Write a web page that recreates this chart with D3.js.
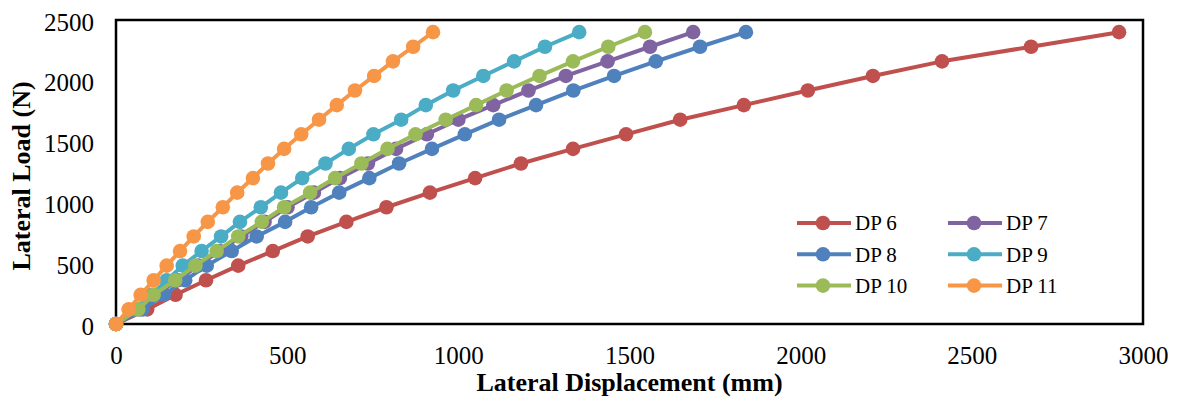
<!DOCTYPE html>
<html>
<head>
<meta charset="utf-8">
<script src="https://cdn.jsdelivr.net/npm/d3@7"></script>
<style>
  html, body { margin: 0; padding: 0; background: #fff; }
  svg { display: block; }
  .tick text { font-family: "Liberation Serif", "Times New Roman", serif; font-size: 25px; fill: #000; }
  .title { font-family: "Liberation Serif", "Times New Roman", serif; font-size: 26px; font-weight: bold; fill: #000; }
  .legend text { font-family: "Liberation Serif", "Times New Roman", serif; font-size: 21px; fill: #000; }
</style>
</head>
<body>
<svg id="chart" width="1178" height="401"></svg>
<script>
// Applied lateral load steps (N)
const loads = [0, 120, 240, 360, 480, 600, 720, 840, 960, 1080, 1200, 1320, 1440, 1560, 1680, 1800, 1920, 2040, 2160, 2280, 2400];

// Lateral displacement (mm) recorded at each load step
const dp6  = [0, 91, 174, 263, 357, 458, 560, 673, 790, 917, 1049, 1183, 1335, 1490, 1648, 1834, 2021, 2211, 2413, 2673, 2930];
const dp7  = [0, 70, 118, 180, 240, 302, 366, 434, 501, 578, 654, 736, 818, 908, 1000, 1102, 1205, 1314, 1436, 1560, 1686];
const dp8  = [0, 78, 140, 202, 265, 338, 411, 494, 570, 652, 740, 827, 923, 1019, 1119, 1227, 1336, 1455, 1577, 1706, 1840];
const dp9  = [0, 55, 105, 148, 195, 250, 307, 362, 423, 482, 544, 612, 680, 752, 833, 905, 985, 1073, 1163, 1253, 1353];
const dp10 = [0, 65, 110, 173, 232, 294, 357, 426, 491, 567, 640, 717, 793, 875, 963, 1052, 1141, 1237, 1335, 1438, 1545];
const dp11 = [0, 37, 72, 110, 148, 187, 227, 268, 312, 354, 400, 444, 491, 541, 593, 645, 698, 754, 809, 868, 926];

const seriesNames = ["DP 6", "DP 7", "DP 8", "DP 9", "DP 10", "DP 11"];
const seriesValues = [dp6, dp7, dp8, dp9, dp10, dp11];
const seriesColors = ["#C0504D", "#8064A2", "#4F81BD", "#4BACC6", "#9BBB59", "#F79646"];

const xTicks = [0, 500, 1000, 1500, 2000, 2500, 3000];
const yTicks = [0, 500, 1000, 1500, 2000, 2500];

const svg = d3.select("#chart");
const plot = { left: 116, right: 1143, top: 20, bottom: 324 };

const x = d3.scaleLinear().domain([0, 3000]).range([plot.left, plot.right]);
const y = d3.scaleLinear().domain([0, 2500]).range([plot.bottom, plot.top]);

// Axes (labels only, no tick marks)
const xAxis = svg.append("g")
  .attr("transform", `translate(0,${plot.bottom})`)
  .call(d3.axisBottom(x).tickValues(xTicks).tickSize(0).tickFormat(d3.format("d")));
xAxis.select(".domain").remove();
xAxis.selectAll(".tick text").attr("y", 0).attr("dy", "40px");

const yAxis = svg.append("g")
  .attr("transform", `translate(${plot.left},0)`)
  .call(d3.axisLeft(y).tickValues(yTicks).tickSize(0).tickFormat(d3.format("d")));
yAxis.select(".domain").remove();
yAxis.selectAll(".tick text").attr("x", -22).attr("dy", "0.4em");

// Plot-area frame
svg.append("rect")
  .attr("x", plot.left).attr("y", plot.top)
  .attr("width", plot.right - plot.left).attr("height", plot.bottom - plot.top)
  .attr("fill", "none").attr("stroke", "#000").attr("stroke-width", 2.5);

// Axis titles
svg.append("text").attr("class", "title")
  .attr("x", (plot.left + plot.right) / 2).attr("y", 391)
  .attr("text-anchor", "middle")
  .text("Lateral Displacement (mm)");

svg.append("text").attr("class", "title")
  .attr("transform", "translate(30,176) rotate(-90)")
  .attr("text-anchor", "middle")
  .text("Lateral Load (N)");

// Series: line with circle markers
const line = d3.line().x(d => x(d[0])).y(d => y(d[1]));
seriesValues.forEach((vals, i) => {
  const pts = vals.map((v, j) => [v, loads[j]]);
  const g = svg.append("g");
  g.append("path").datum(pts)
    .attr("d", line)
    .attr("fill", "none")
    .attr("stroke", seriesColors[i])
    .attr("stroke-width", 4)
    .attr("stroke-linejoin", "round");
  g.selectAll("circle").data(pts).enter().append("circle")
    .attr("cx", d => x(d[0])).attr("cy", d => y(d[1]))
    .attr("r", 7.3)
    .attr("fill", seriesColors[i]);
});

// Legend: two columns, three rows
const legendCols = [797, 948];
const legendRows = [223, 254.3, 285.6];
const legend = svg.append("g").attr("class", "legend");
seriesNames.forEach((name, i) => {
  const cx = legendCols[i % 2];
  const cy = legendRows[Math.floor(i / 2)];
  legend.append("line")
    .attr("x1", cx).attr("x2", cx + 54)
    .attr("y1", cy).attr("y2", cy)
    .attr("stroke", seriesColors[i]).attr("stroke-width", 4);
  legend.append("circle")
    .attr("cx", cx + 26).attr("cy", cy).attr("r", 7.3)
    .attr("fill", seriesColors[i]);
  legend.append("text")
    .attr("x", cx + 58).attr("y", cy).attr("dy", "0.35em")
    .text(name);
});
</script>
</body>
</html>
